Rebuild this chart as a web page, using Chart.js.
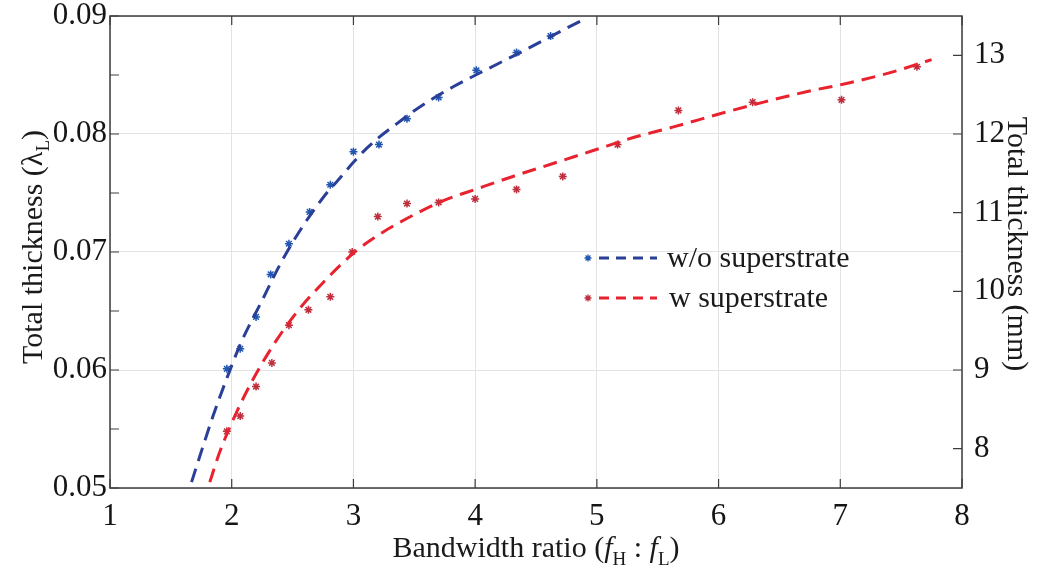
<!DOCTYPE html>
<html>
<head>
<meta charset="utf-8">
<script src="https://cdn.jsdelivr.net/npm/chart.js@4.4.1/dist/chart.umd.min.js"></script>
<style>
  body{margin:0;background:#fff;}
  #wrap{width:1037px;height:574px;}
</style>
</head>
<body>
<div id="wrap"><canvas id="c" width="1037" height="574"></canvas></div>
<script>
// ticks
const xTicks = [1,2,3,4,5,6,7,8];
const leftTicks = [0.05,0.055,0.06,0.065,0.07,0.075,0.08,0.085,0.09];
const rightTicks = [8,9,10,11,12,13];

// measured points, w/o superstrate
const ratioNoSup = [1.96,2.07,2.2,2.32,2.47,2.64,2.81,3.0,3.21,3.44,3.7,4.01,4.34,4.62];
const thickNoSup = [0.0601,0.0618,0.0645,0.0681,0.0707,0.0734,0.0757,0.0785,0.0791,0.0813,0.0831,0.0854,0.0869,0.0883];

// measured points, w superstrate
const ratioSup = [1.96,2.07,2.2,2.33,2.47,2.63,2.81,2.99,3.2,3.44,3.7,4.0,4.34,4.72,5.17,5.67,6.28,7.01,7.63];
const thickSup = [0.0548,0.0561,0.0586,0.0606,0.0638,0.0651,0.0662,0.0700,0.0730,0.0741,0.0742,0.0745,0.0753,0.0764,0.0791,0.0820,0.0827,0.0829,0.0857];

// fitted curves
const fitXNoSup = [1.67,1.76,1.85,1.96,2.08,2.25,2.40,2.56,2.75,2.90,3.0,3.10,3.22,3.36,3.49,3.62,3.82,4.10,4.37,4.72,4.89];
const fitYNoSup = [0.0505,0.0534,0.0562,0.0593,0.0624,0.0659,0.0690,0.0718,0.0746,0.0764,0.0776,0.0787,0.0798,0.0809,0.0819,0.0828,0.0840,0.0855,0.0869,0.0888,0.0897];
const fitXSup = [1.82,1.90,2.03,2.18,2.36,2.55,2.75,3.0,3.2,3.45,3.75,4.0,4.31,4.64,4.97,5.30,5.63,6.04,6.37,6.73,7.06,7.41,7.75];
const fitYSup = [0.0505,0.0530,0.0562,0.0593,0.0624,0.0651,0.0674,0.0699,0.0714,0.0729,0.0744,0.0753,0.0764,0.0775,0.0786,0.0797,0.0806,0.0818,0.0827,0.0836,0.0843,0.0852,0.0863];

const blueLine = '#2a3f98', blueMark = '#2157b0';
const redLine = '#e8222e', redMark = '#bf2f3e';
const serif = "'Liberation Serif', 'DejaVu Serif', serif";
const tickFont = {family: serif, size: 31};

function pts(xs, ys){ return xs.map((x,i)=>({x:x, y:ys[i]})); }
function isMajor(v){ return Math.abs(v*100 - Math.round(v*100)) < 1e-6; }
function noPad(s){ s.paddingTop = 0; s.paddingBottom = 0; s.paddingLeft = 0; s.paddingRight = 0; }

// frame + inward ticks like matlab
const frame = {
  id:'frame',
  afterDatasetsDraw(chart){
    const {ctx, chartArea:a, scales} = chart;
    ctx.save();
    ctx.strokeStyle = '#3c3c3c';
    ctx.lineWidth = 1.2;
    ctx.beginPath();
    xTicks.forEach(v=>{
      const px = scales.x.getPixelForValue(v);
      ctx.moveTo(px, a.bottom); ctx.lineTo(px, a.bottom-9);
      ctx.moveTo(px, a.top); ctx.lineTo(px, a.top+9);
    });
    leftTicks.forEach(v=>{
      const py = scales.y.getPixelForValue(v);
      ctx.moveTo(a.left, py); ctx.lineTo(a.left+9, py);
    });
    rightTicks.forEach(v=>{
      const py = scales.y2.getPixelForValue(v);
      ctx.moveTo(a.right, py); ctx.lineTo(a.right-9, py);
    });
    ctx.stroke();
    ctx.lineWidth = 1.5;
    ctx.strokeRect(a.left, a.top, a.right-a.left, a.bottom-a.top);
    ctx.restore();
  }
};

function drawRuns(ctx, runs, cx, cy){
  let total = 0;
  runs.forEach(r=>{ ctx.font = r[1]; r.w = ctx.measureText(r[0]).width; total += r.w; });
  let x = cx - total/2;
  runs.forEach(r=>{ ctx.font = r[1]; ctx.fillText(r[0], x, cy + r[2]); x += r.w; });
}

const titles = {
  id:'titles',
  afterDraw(chart){
    const ctx = chart.ctx;
    const big = '30px ' + serif, it = 'italic 30px ' + serif, sub = '19px ' + serif;
    ctx.save();
    ctx.fillStyle = '#1a1a1a';
    ctx.textBaseline = 'alphabetic';
    // x title
    drawRuns(ctx, [['Bandwidth ratio (', big, 0], ['f', it, 0], ['H', sub, 8], [' : ', big, 0], ['f', it, 0], ['L', sub, 8], [')', big, 0]], 536, 557);
    // left title
    ctx.save();
    ctx.translate(42, 247); ctx.rotate(-Math.PI/2);
    drawRuns(ctx, [['Total thickness (', big, 0], ['λ', big, 0], ['L', sub, 7], [')', big, 0]], 0, 0);
    ctx.restore();
    // right title
    ctx.save();
    ctx.translate(1008, 244); ctx.rotate(Math.PI/2);
    drawRuns(ctx, [['Total thickness (mm)', big, 0]], 0, 0);
    ctx.restore();

    // legend
    const items = [
      {txt:'w/o superstrate', line:blueLine, mark:blueMark, y:258, tx:667},
      {txt:'w superstrate', line:redLine, mark:redMark, y:298, tx:669}
    ];
    items.forEach(it2=>{
      ctx.strokeStyle = it2.line; ctx.lineWidth = 3; ctx.setLineDash([10,7]);
      ctx.beginPath(); ctx.moveTo(599, it2.y); ctx.lineTo(657, it2.y); ctx.stroke();
      ctx.setLineDash([]);
      ctx.strokeStyle = it2.mark; ctx.lineWidth = 1.3;
      const r = 3.5, mx = 588;
      ctx.beginPath();
      ctx.moveTo(mx-r, it2.y); ctx.lineTo(mx+r, it2.y);
      ctx.moveTo(mx, it2.y-r); ctx.lineTo(mx, it2.y+r);
      ctx.moveTo(mx-r*0.7, it2.y-r*0.7); ctx.lineTo(mx+r*0.7, it2.y+r*0.7);
      ctx.moveTo(mx-r*0.7, it2.y+r*0.7); ctx.lineTo(mx+r*0.7, it2.y-r*0.7);
      ctx.stroke();
      ctx.font = big; ctx.fillStyle = '#1a1a1a'; ctx.textBaseline = 'alphabetic';
      ctx.fillText(it2.txt, it2.tx, it2.y + 9);
    });
    ctx.restore();
  }
};

new Chart(document.getElementById('c'), {
  type:'scatter',
  data:{
    datasets:[
      {label:'w/o superstrate fit', data:pts(fitXNoSup, fitYNoSup), showLine:true, borderColor:blueLine,
       borderWidth:3, borderDash:[14,8], pointRadius:0, cubicInterpolationMode:'monotone', yAxisID:'y'},
      {label:'w superstrate fit', data:pts(fitXSup, fitYSup), showLine:true, borderColor:redLine,
       borderWidth:3, borderDash:[14,8], pointRadius:0, cubicInterpolationMode:'monotone', yAxisID:'y'},
      {label:'w/o superstrate', data:pts(ratioNoSup, thickNoSup), pointStyle:'star', pointRadius:4,
       borderColor:blueMark, backgroundColor:blueMark, borderWidth:1.5, yAxisID:'y'},
      {label:'w superstrate', data:pts(ratioSup, thickSup), pointStyle:'star', pointRadius:4,
       borderColor:redMark, backgroundColor:redMark, borderWidth:1.5, yAxisID:'y'}
    ]
  },
  options:{
    responsive:false,
    animation:false,
    layout:{padding:{top:16, left:0, right:0, bottom:0}},
    plugins:{legend:{display:false}, tooltip:{enabled:false}},
    scales:{
      x:{
        type:'linear', min:1, max:8,
        afterBuildTicks:s=>{ s.ticks = xTicks.map(v=>({value:v})); },
        afterFit:s=>{ s.height = 86; noPad(s); },
        border:{display:false},
        grid:{color:'#e3e3e3', drawTicks:false},
        ticks:{font:tickFont, color:'#151515', padding:10, maxRotation:0, callback:v=>String(v)}
      },
      y:{
        type:'linear', position:'left', min:0.05, max:0.09,
        afterBuildTicks:s=>{ s.ticks = leftTicks.map(v=>({value:v})); },
        afterFit:s=>{ s.width = 110; noPad(s); },
        border:{display:false},
        grid:{drawTicks:false, color:c=> (c.tick && isMajor(c.tick.value)) ? '#e3e3e3' : 'rgba(0,0,0,0)'},
        ticks:{font:tickFont, color:'#151515', padding:3, callback:v=> isMajor(v) ? v.toFixed(2) : ''}
      },
      y2:{
        type:'linear', position:'right', min:7.5, max:13.5,
        afterBuildTicks:s=>{ s.ticks = rightTicks.map(v=>({value:v})); },
        afterFit:s=>{ s.width = 75; noPad(s); },
        border:{display:false},
        grid:{display:false, drawTicks:false},
        ticks:{font:tickFont, color:'#151515', padding:12, callback:v=>String(v)}
      }
    }
  },
  plugins:[frame, titles]
});
</script>
</body>
</html>
